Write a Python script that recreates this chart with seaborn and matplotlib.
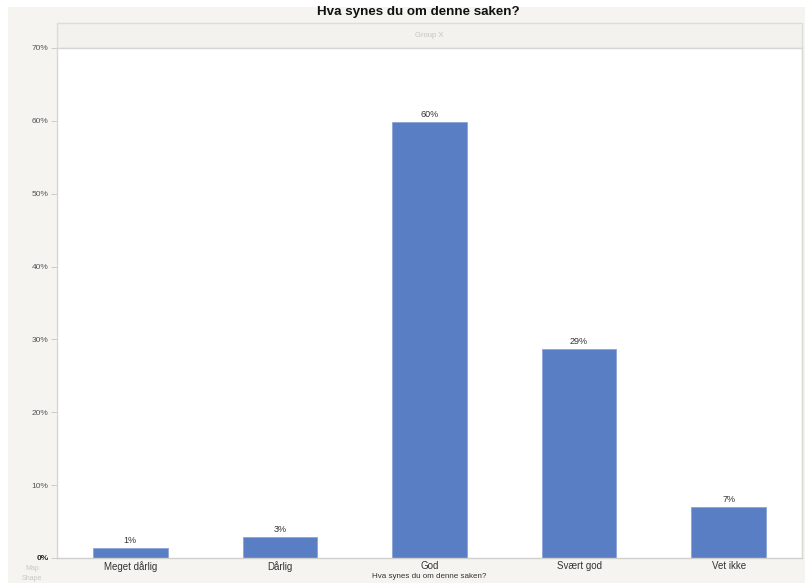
import matplotlib
matplotlib.use("Agg")
import matplotlib.pyplot as plt
import seaborn as sns
import pandas as pd
from matplotlib.patches import Rectangle

categories = ["Meget dårlig", "Dårlig", "God", "Svært god", "Vet ikke"]
values = [1.4, 2.9, 59.8, 28.7, 7.0]
labels = ["1%", "3%", "60%", "29%", "7%"]
yticks = [0, 10, 20, 30, 40, 50, 60, 70]
ytick_labels = ["0%", "10%", "20%", "30%", "40%", "50%", "60%", "70%"]

df = pd.DataFrame({"cat": categories, "val": values})

sns.set_style("white")
plt.rcParams["font.family"] = ["Liberation Sans", "DejaVu Sans"]

W, H = 805, 583
fig = plt.figure(figsize=(W / 100, H / 100), dpi=100)
fig.patch.set_facecolor("white")

bg = "#f5f4f0"
# background panel
fig.add_artist(Rectangle((8 / W, 0), 1 - 8 / W, 1 - 7 / H, transform=fig.transFigure,
                         facecolor=bg, edgecolor="none", zorder=-10))
# header strip "Group X"
fig.add_artist(Rectangle((57 / W, 1 - 48 / H), 745 / W, 25 / H, transform=fig.transFigure,
                         facecolor="#f3f2ee", edgecolor="#dcdcd8", linewidth=1, zorder=-5))
fig.text((57 + 745 / 2) / W, 1 - 35.5 / H, "Group X", ha="center", va="center",
         fontsize=5.5, color="#c4c4c0")

ax = fig.add_axes([57 / W, 25 / H, 745 / W, 510 / H])
ax.set_zorder(1)
ax.set_facecolor("white")
sns.barplot(data=df, x="cat", y="val", color="#5a7ec3", width=0.5, ax=ax,
            saturation=1, edgecolor="#8aa4d6", linewidth=0.6)
ax.set_xlim(-0.49, 4.49)
ax.set_ylim(0, 70)
ax.set_yticks(yticks)
ax.set_yticklabels(ytick_labels, fontsize=6, color="#555555")
ax.tick_params(axis="y", length=4, width=0.5, color="#bbbbbb", pad=2, left=True)
ax.tick_params(axis="x", length=0, pad=2, labelsize=7, labelcolor="#333333")
for lbl in ax.get_yticklabels():
    if lbl.get_text() == "0%":
        lbl.set_color("#222222")
        lbl.set_fontweight("bold")
ax.set_xlabel("Hva synes du om denne saken?", fontsize=5.8, color="#333333", labelpad=1)
ax.set_ylabel("")
for s in ax.spines.values():
    s.set_color("#d6d6d2")
    s.set_linewidth(1)
ax.spines["bottom"].set_color("#cfcfcb")

for i, (v, t) in enumerate(zip(values, labels)):
    ax.text(i, v + 0.4, t, ha="center", va="bottom", fontsize=6.5, color="#333333")

fig.text(418 / W, 1 - 12.5 / H, "Hva synes du om denne saken?", ha="center", va="center",
         fontsize=9.6, fontweight="bold", color="#111111")
fig.text(32 / W, 1 - 573 / H, "Map\nShape", ha="center", va="center", fontsize=5,
         color="#c8c8c4", linespacing=1.6)

fig.savefig("out.png", dpi=100, facecolor="white")
